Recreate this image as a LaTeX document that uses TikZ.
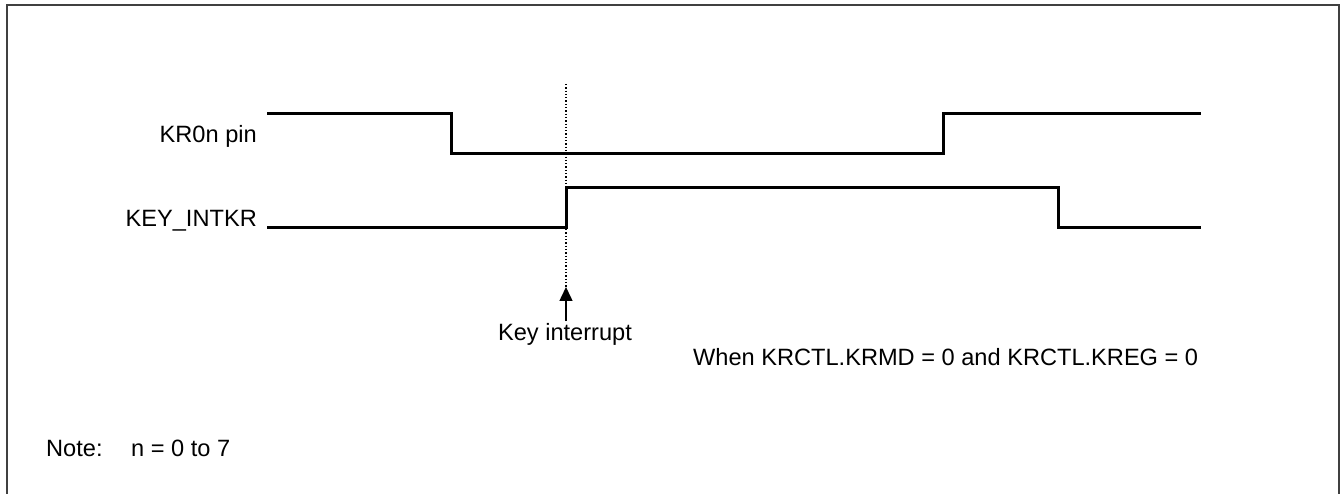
\documentclass[tikz,border=0pt]{standalone}
\usepackage{fontspec}
\setmainfont{Liberation Sans}
\usetikzlibrary{arrows.meta}
\begin{document}
\begin{tikzpicture}[x=1pt,y=-1pt,
  frame/.style={line width=2pt,draw=black!75},
  signal/.style={line width=3pt,line join=miter,line cap=butt},
  lbl/.style={inner sep=0pt,font=\fontsize{23.6}{28}\selectfont},
  marker/.style={line width=1.3pt,dotted},
  pointer/.style={line width=1.5pt,-{Triangle[length=14pt,width=13pt]}}]
\useasboundingbox (0,0) rectangle (1341,494);
\fill[white] (0,0) rectangle (1341,494);
\draw[frame] (7,494) -- (7,5) -- (1339,5) -- (1339,494);
% labels
\node[lbl,anchor=base east] (kr) at (257,143) {KR0n pin};
\node[lbl,anchor=base east] (ki) at (257,227) {KEY\_INTKR};
% KR0n pin waveform
\coordinate (k0) at (267,114);
\coordinate (k1) at (451,114);
\coordinate (k2) at (451,154);
\coordinate (k3) at (943,154);
\coordinate (k4) at (943,114);
\coordinate (k5) at (1201,114);
\draw[signal] (k0) -- (k1) -- (k2) -- (k3) -- (k4) -- (k5);
% KEY_INTKR waveform
\coordinate (i0) at (267,228);
\coordinate (i1) at (566,228);
\coordinate (i2) at (566,188);
\coordinate (i3) at (1058,188);
\coordinate (i4) at (1058,228);
\coordinate (i5) at (1201,228);
\draw[signal] (i0) -- (i1) -- (i2) -- (i3) -- (i4) -- (i5);
% marker and arrow
\coordinate (mtop) at (566,84);
\coordinate (mtip) at (566,287);
\coordinate (abot) at (566,321);
\draw[marker] (mtop) -- (mtip);
\draw[pointer] (abot) -- (mtip);
\node[lbl,anchor=base] (kint) at (565,341) {Key interrupt};
\node[lbl,anchor=base west] (cond) at (693,365) {When KRCTL.KRMD = 0 and KRCTL.KREG = 0};
\node[lbl,anchor=base west] (note) at (46,456) {Note:};
\node[lbl,anchor=base west] (noten) at (131,456) {n = 0 to 7};
\end{tikzpicture}
\end{document}
